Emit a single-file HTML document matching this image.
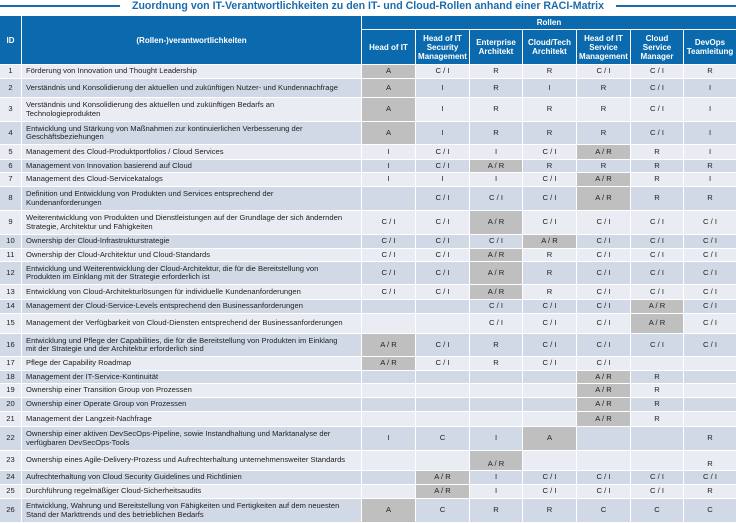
<!DOCTYPE html>
<html><head><meta charset="utf-8"><style>
body{margin:0;width:736px;height:523px;background:#fff;overflow:hidden;font-family:"Liberation Sans",sans-serif;position:relative}
.t{position:absolute;top:0;left:0;width:736px;text-align:center;font-weight:bold;font-size:10.6px;color:#1c6cad;line-height:13px}
.t span{background:#fff;padding:0 12px}
.l{position:absolute;top:5px;height:2px;background:#1c6cad}
.g{position:absolute;top:16px;left:0;display:grid;grid-template-columns:21px 339px 53px 53px 52px 53px 53px 52px 52px;
grid-template-rows:13px 34px 13px 18px 23px 22px 14px 12px 13px 23px 23px 13px 12px 22px 14px 13px 19px 22px 13px 12px 13px 13px 14px 23px 19px 13px 13px 23px;gap:1px;background:#fff;width:736px}
.g div{display:flex;align-items:center;justify-content:center;font-size:7.6px;color:#222;line-height:8.5px;overflow:hidden;white-space:nowrap}
.g div.h{background:#0a6aad;color:#fff;font-weight:bold;font-size:8px;text-align:center;white-space:normal;line-height:9px}
.g div.x{justify-content:flex-start;padding-left:4px}
.o{background:#e9ecf2}.e{background:#d1d9e6}
.g div.a{background:#bfbfbf}
.g div.b{align-items:flex-end;padding-bottom:2px}
</style></head><body>
<div class="l" style="left:0;width:125px"></div><div class="l" style="left:612px;width:124px"></div>
<div class="t"><span>Zuordnung von IT-Verantwortlichkeiten zu den IT- und Cloud-Rollen anhand einer RACI-Matrix</span></div>
<div class="g">
<div class="h" style="grid-row:1/3">ID</div><div class="h" style="grid-row:1/3">(Rollen-)verantwortlichkeiten</div><div class="h" style="grid-column:3/10">Rollen</div>
<div class="h">Head of IT</div><div class="h">Head of IT Security Management</div><div class="h">Enterprise Architekt</div><div class="h">Cloud/Tech Architekt</div><div class="h">Head of IT Service Management</div><div class="h">Cloud Service Manager</div><div class="h">DevOps Teamleitung</div>

<div class="o">1</div><div class="o x">Förderung von Innovation und Thought Leadership</div><div class="a">A</div><div class="o">C / I</div><div class="o">R</div><div class="o">R</div><div class="o">C / I</div><div class="o">C / I</div><div class="o">R</div>
<div class="e">2</div><div class="e x">Verständnis und Konsolidierung der aktuellen und zukünftigen Nutzer- und Kundennachfrage</div><div class="a">A</div><div class="e">I</div><div class="e">R</div><div class="e">I</div><div class="e">R</div><div class="e">C / I</div><div class="e">I</div>
<div class="o">3</div><div class="o x">Verständnis und Konsolidierung des aktuellen und zukünftigen Bedarfs an<br>Technologieprodukten</div><div class="a">A</div><div class="o">I</div><div class="o">R</div><div class="o">R</div><div class="o">R</div><div class="o">C / I</div><div class="o">I</div>
<div class="e">4</div><div class="e x">Entwicklung und Stärkung von Maßnahmen zur kontinuierlichen Verbesserung der<br>Geschäftsbeziehungen</div><div class="a">A</div><div class="e">I</div><div class="e">R</div><div class="e">R</div><div class="e">R</div><div class="e">C / I</div><div class="e">I</div>
<div class="o">5</div><div class="o x">Management des Cloud-Produktportfolios / Cloud Services</div><div class="o">I</div><div class="o">C / I</div><div class="o">I</div><div class="o">C / I</div><div class="a">A / R</div><div class="o">R</div><div class="o">I</div>
<div class="e">6</div><div class="e x">Management von Innovation basierend auf Cloud</div><div class="e">I</div><div class="e">C / I</div><div class="a">A / R</div><div class="e">R</div><div class="e">R</div><div class="e">R</div><div class="e">R</div>
<div class="o">7</div><div class="o x">Management des Cloud-Servicekatalogs</div><div class="o">I</div><div class="o">I</div><div class="o">I</div><div class="o">C / I</div><div class="a">A / R</div><div class="o">R</div><div class="o">I</div>
<div class="e">8</div><div class="e x">Definition und Entwicklung von Produkten und Services entsprechend der<br>Kundenanforderungen</div><div class="e"></div><div class="e">C / I</div><div class="e">C / I</div><div class="e">C / I</div><div class="a">A / R</div><div class="e">R</div><div class="e">R</div>
<div class="o">9</div><div class="o x">Weiterentwicklung von Produkten und Dienstleistungen auf der Grundlage der sich ändernden<br>Strategie, Architektur und Fähigkeiten</div><div class="o">C / I</div><div class="o">C / I</div><div class="a">A / R</div><div class="o">C / I</div><div class="o">C / I</div><div class="o">C / I</div><div class="o">C / I</div>
<div class="e">10</div><div class="e x">Ownership der Cloud-Infrastrukturstrategie</div><div class="e">C / I</div><div class="e">C / I</div><div class="e">C / I</div><div class="a">A / R</div><div class="e">C / I</div><div class="e">C / I</div><div class="e">C / I</div>
<div class="o">11</div><div class="o x">Ownership der Cloud-Architektur und Cloud-Standards</div><div class="o">C / I</div><div class="o">C / I</div><div class="a">A / R</div><div class="o">R</div><div class="o">C / I</div><div class="o">C / I</div><div class="o">C / I</div>
<div class="e">12</div><div class="e x">Entwicklung und Weiterentwicklung der Cloud-Architektur, die für die Bereitstellung von<br>Produkten im Einklang mit der Strategie erforderlich ist</div><div class="e">C / I</div><div class="e">C / I</div><div class="a">A / R</div><div class="e">R</div><div class="e">C / I</div><div class="e">C / I</div><div class="e">C / I</div>
<div class="o">13</div><div class="o x">Entwicklung von Cloud-Architekturlösungen für individuelle Kundenanforderungen</div><div class="o">C / I</div><div class="o">C / I</div><div class="a">A / R</div><div class="o">R</div><div class="o">C / I</div><div class="o">C / I</div><div class="o">C / I</div>
<div class="e">14</div><div class="e x">Management der Cloud-Service-Levels entsprechend den Businessanforderungen</div><div class="e"></div><div class="e"></div><div class="e">C / I</div><div class="e">C / I</div><div class="e">C / I</div><div class="a">A / R</div><div class="e">C / I</div>
<div class="o">15</div><div class="o x">Management der Verfügbarkeit von Cloud-Diensten entsprechend der Businessanforderungen</div><div class="o"></div><div class="o"></div><div class="o">C / I</div><div class="o">C / I</div><div class="o">C / I</div><div class="a">A / R</div><div class="o">C / I</div>
<div class="e">16</div><div class="e x">Entwicklung und Pflege der Capabilities, die für die Bereitstellung von Produkten im Einklang<br>mit der Strategie und der Architektur erforderlich sind</div><div class="a">A / R</div><div class="e">C / I</div><div class="e">R</div><div class="e">C / I</div><div class="e">C / I</div><div class="e">C / I</div><div class="e">C / I</div>
<div class="o">17</div><div class="o x">Pflege der Capability Roadmap</div><div class="a">A / R</div><div class="o">C / I</div><div class="o">R</div><div class="o">C / I</div><div class="o">C / I</div><div class="o"></div><div class="o"></div>
<div class="e">18</div><div class="e x">Management der IT-Service-Kontinuität</div><div class="e"></div><div class="e"></div><div class="e"></div><div class="e"></div><div class="a">A / R</div><div class="e">R</div><div class="e"></div>
<div class="o">19</div><div class="o x">Ownership einer Transition Group von Prozessen</div><div class="o"></div><div class="o"></div><div class="o"></div><div class="o"></div><div class="a">A / R</div><div class="o">R</div><div class="o"></div>
<div class="e">20</div><div class="e x">Ownership einer Operate Group von Prozessen</div><div class="e"></div><div class="e"></div><div class="e"></div><div class="e"></div><div class="a">A / R</div><div class="e">R</div><div class="e"></div>
<div class="o">21</div><div class="o x">Management der Langzeit-Nachfrage</div><div class="o"></div><div class="o"></div><div class="o"></div><div class="o"></div><div class="a">A / R</div><div class="o">R</div><div class="o"></div>
<div class="e">22</div><div class="e x">Ownership einer aktiven DevSecOps-Pipeline, sowie Instandhaltung und Marktanalyse der<br>verfügbaren DevSecOps-Tools</div><div class="e">I</div><div class="e">C</div><div class="e">I</div><div class="a">A</div><div class="e"></div><div class="e"></div><div class="e">R</div>
<div class="o">23</div><div class="o x">Ownership eines Agile-Delivery-Prozess und Aufrechterhaltung unternehmensweiter Standards</div><div class="o"></div><div class="o"></div><div class="a b">A / R</div><div class="o"></div><div class="o"></div><div class="o"></div><div class="o b">R</div>
<div class="e">24</div><div class="e x">Aufrechterhaltung von Cloud Security Guidelines und Richtlinien</div><div class="e"></div><div class="a">A / R</div><div class="e">I</div><div class="e">C / I</div><div class="e">C / I</div><div class="e">C / I</div><div class="e">C / I</div>
<div class="o">25</div><div class="o x">Durchführung regelmäßiger Cloud-Sicherheitsaudits</div><div class="o"></div><div class="a">A / R</div><div class="o">I</div><div class="o">C / I</div><div class="o">C / I</div><div class="o">C / I</div><div class="o">R</div>
<div class="e">26</div><div class="e x">Entwicklung, Wahrung und Bereitstellung von Fähigkeiten und Fertigkeiten auf dem neuesten<br>Stand der Markttrends und des betrieblichen Bedarfs</div><div class="a">A</div><div class="e">C</div><div class="e">R</div><div class="e">R</div><div class="e">C</div><div class="e">C</div><div class="e">C</div>
</div>
</body></html>
